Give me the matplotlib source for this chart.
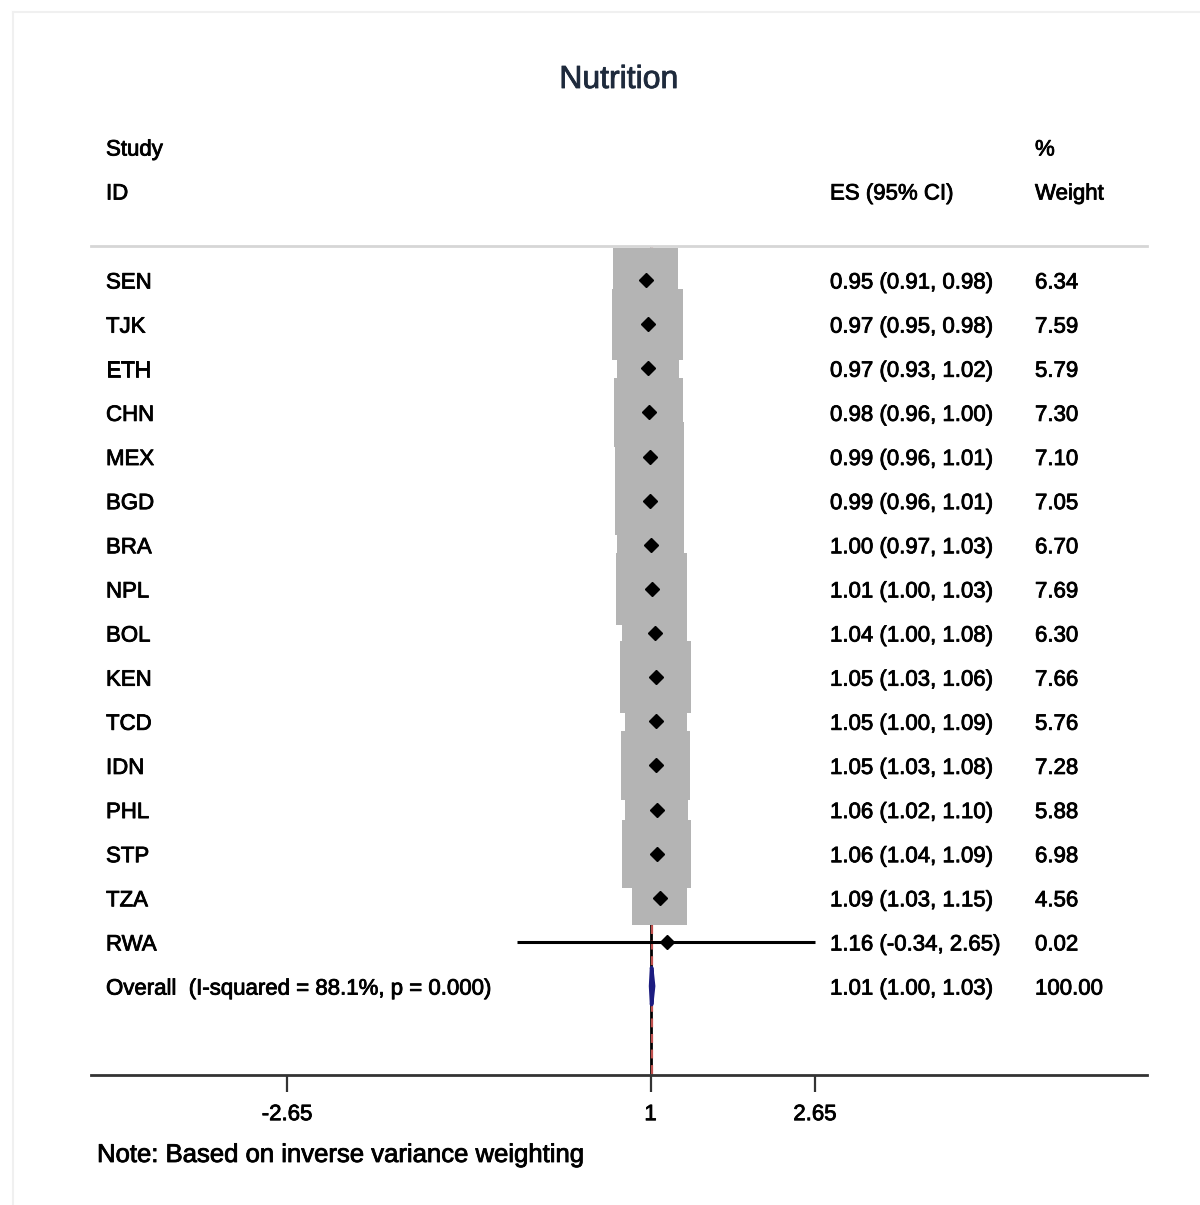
import matplotlib
matplotlib.use("Agg")
import matplotlib.pyplot as plt
from matplotlib.transforms import blended_transform_factory
from matplotlib.lines import Line2D
from matplotlib.patches import Polygon
import matplotlib.patheffects as pe

plt.rcParams['font.family'] = ['Liberation Sans', 'DejaVu Sans']

title = "Nutrition"
studies = ["SEN", "TJK", "ETH", "CHN", "MEX", "BGD", "BRA", "NPL",
           "BOL", "KEN", "TCD", "IDN", "PHL", "STP", "TZA", "RWA"]
es = [0.95, 0.97, 0.97, 0.98, 0.99, 0.99, 1.00, 1.01,
      1.04, 1.05, 1.05, 1.05, 1.06, 1.06, 1.09, 1.16]
lo = [0.91, 0.95, 0.93, 0.96, 0.96, 0.96, 0.97, 1.00,
      1.00, 1.03, 1.00, 1.03, 1.02, 1.04, 1.03, -0.34]
hi = [0.98, 0.98, 1.02, 1.00, 1.01, 1.01, 1.03, 1.03,
      1.08, 1.06, 1.09, 1.08, 1.10, 1.09, 1.15, 2.65]
weights = [6.34, 7.59, 5.79, 7.30, 7.10, 7.05, 6.70, 7.69,
           6.30, 7.66, 5.76, 7.28, 5.88, 6.98, 4.56, 0.02]
overall_label = "Overall  (I-squared = 88.1%, p = 0.000)"
overall_es, overall_lo, overall_hi, overall_w = 1.01, 1.00, 1.03, 100.00
null_value = 1
xticks = [-2.65, 1, 2.65]
xtick_labels = ["-2.65", "1", "2.65"]
note = "Note: Based on inverse variance weighting"

W, H = 1200, 1205
fig = plt.figure(figsize=(W / 100, H / 100), dpi=100)
fig.patch.set_facecolor("white")

L, R, T, B = 91, 1147, 246, 1075
ax = fig.add_axes([L / W, 1 - B / H, (R - L) / W, (B - T) / H])
px_per_unit = 99.6
row_px = 44.13
x0 = null_value - (650.6 - L) / px_per_unit
x1 = null_value + (R - 650.6) / px_per_unit
ax.set_xlim(x0, x1)
ax.set_ylim((B - 280) / row_px, (T - 280) / row_px)

n = len(studies)
rows = list(range(n))
overall_row = n

stroke = [pe.withStroke(linewidth=0.6, foreground="black")]

# lines
ax.plot([null_value, null_value], [overall_row + 2, -1], color="black", lw=2, zorder=1,
        solid_capstyle="butt")
ax.plot([overall_es, overall_es], [overall_row + 2, -1], color="#c0504d", lw=1.6,
        ls=(0, (4, 3)), zorder=1.5)

# weight boxes
ax.scatter(es, rows, s=[345 * w for w in weights], marker="s", color="#b4b4b4",
           linewidths=0, zorder=2)
# CIs
for r, l, h in zip(rows, lo, hi):
    ax.plot([l, h], [r, r], color="black", lw=2.2, zorder=3, solid_capstyle="butt")
ax.plot(es, rows, ls="none", marker="D", ms=7.5, color="black", zorder=4)

# overall diamond
dh = 18.5 / row_px
diamond = Polygon([[overall_lo, overall_row], [overall_es, overall_row - dh],
                   [overall_hi, overall_row], [overall_es, overall_row + dh]],
                  closed=True, facecolor="#1c1c80", edgecolor="#1c1c80", lw=2.6,
                  joinstyle="round", zorder=4)
ax.add_patch(diamond)

# spines / ticks
for s in ["left", "right"]:
    ax.spines[s].set_visible(False)
ax.spines["top"].set_color("#d6d6d6")
ax.spines["top"].set_linewidth(2)
ax.spines["bottom"].set_color("#333333")
ax.spines["bottom"].set_linewidth(2)
ax.set_yticks([])
ax.set_xticks(xticks)
ax.set_xticklabels(xtick_labels, fontsize=16)
for lbl in ax.get_xticklabels():
    lbl.set_path_effects(stroke)
ax.tick_params(axis="x", length=12, width=1.6, color="#333333", pad=9.0)

# text
tr = blended_transform_factory(ax.transAxes, ax.transData)
fs = 16
off = 8.5 / row_px
cx_study = (106 - L) / (R - L)
cx_es = (830 - L) / (R - L)
cx_w = (1035 - L) / (R - L)

def put(xf, row, s):
    ax.text(xf, row + off, s, transform=tr, ha="left", va="baseline", fontsize=fs,
            color="black", clip_on=False, path_effects=stroke)

put(cx_study, (147 - 280) / row_px, "Study")
put(cx_study, (191 - 280) / row_px, "ID")
put(cx_es, (191 - 280) / row_px, "ES (95% CI)")
put(cx_w, (147 - 280) / row_px, "%")
put(cx_w, (191 - 280) / row_px, "Weight")

for r, name, e, l, h, w in zip(rows, studies, es, lo, hi, weights):
    put(cx_study, r, name)
    put(cx_es, r, f"{e:.2f} ({l:.2f}, {h:.2f})")
    put(cx_w, r, f"{w:.2f}")
put(cx_study, overall_row, overall_label)
put(cx_es, overall_row, f"{overall_es:.2f} ({overall_lo:.2f}, {overall_hi:.2f})")
put(cx_w, overall_row, f"{overall_w:.2f}")

fig.text(619 / W, 1 - 88 / H, title, ha="center", va="baseline", fontsize=23,
         color="#1e2a3c", path_effects=[pe.withStroke(linewidth=0.6, foreground="#1e2a3c")])
fig.text(97 / W, 1 - 1162 / H, note, ha="left", va="baseline", fontsize=18.5, color="black",
         path_effects=stroke)

# faint outer border
fig.add_artist(Line2D([13 / W, 13 / W], [0, 1 - 12 / H], transform=fig.transFigure,
                      color="#f0f0f0", lw=1.5))
fig.add_artist(Line2D([13 / W, 1], [1 - 12 / H, 1 - 12 / H], transform=fig.transFigure,
                      color="#f0f0f0", lw=1.5))

fig.savefig("out.png", dpi=100)
